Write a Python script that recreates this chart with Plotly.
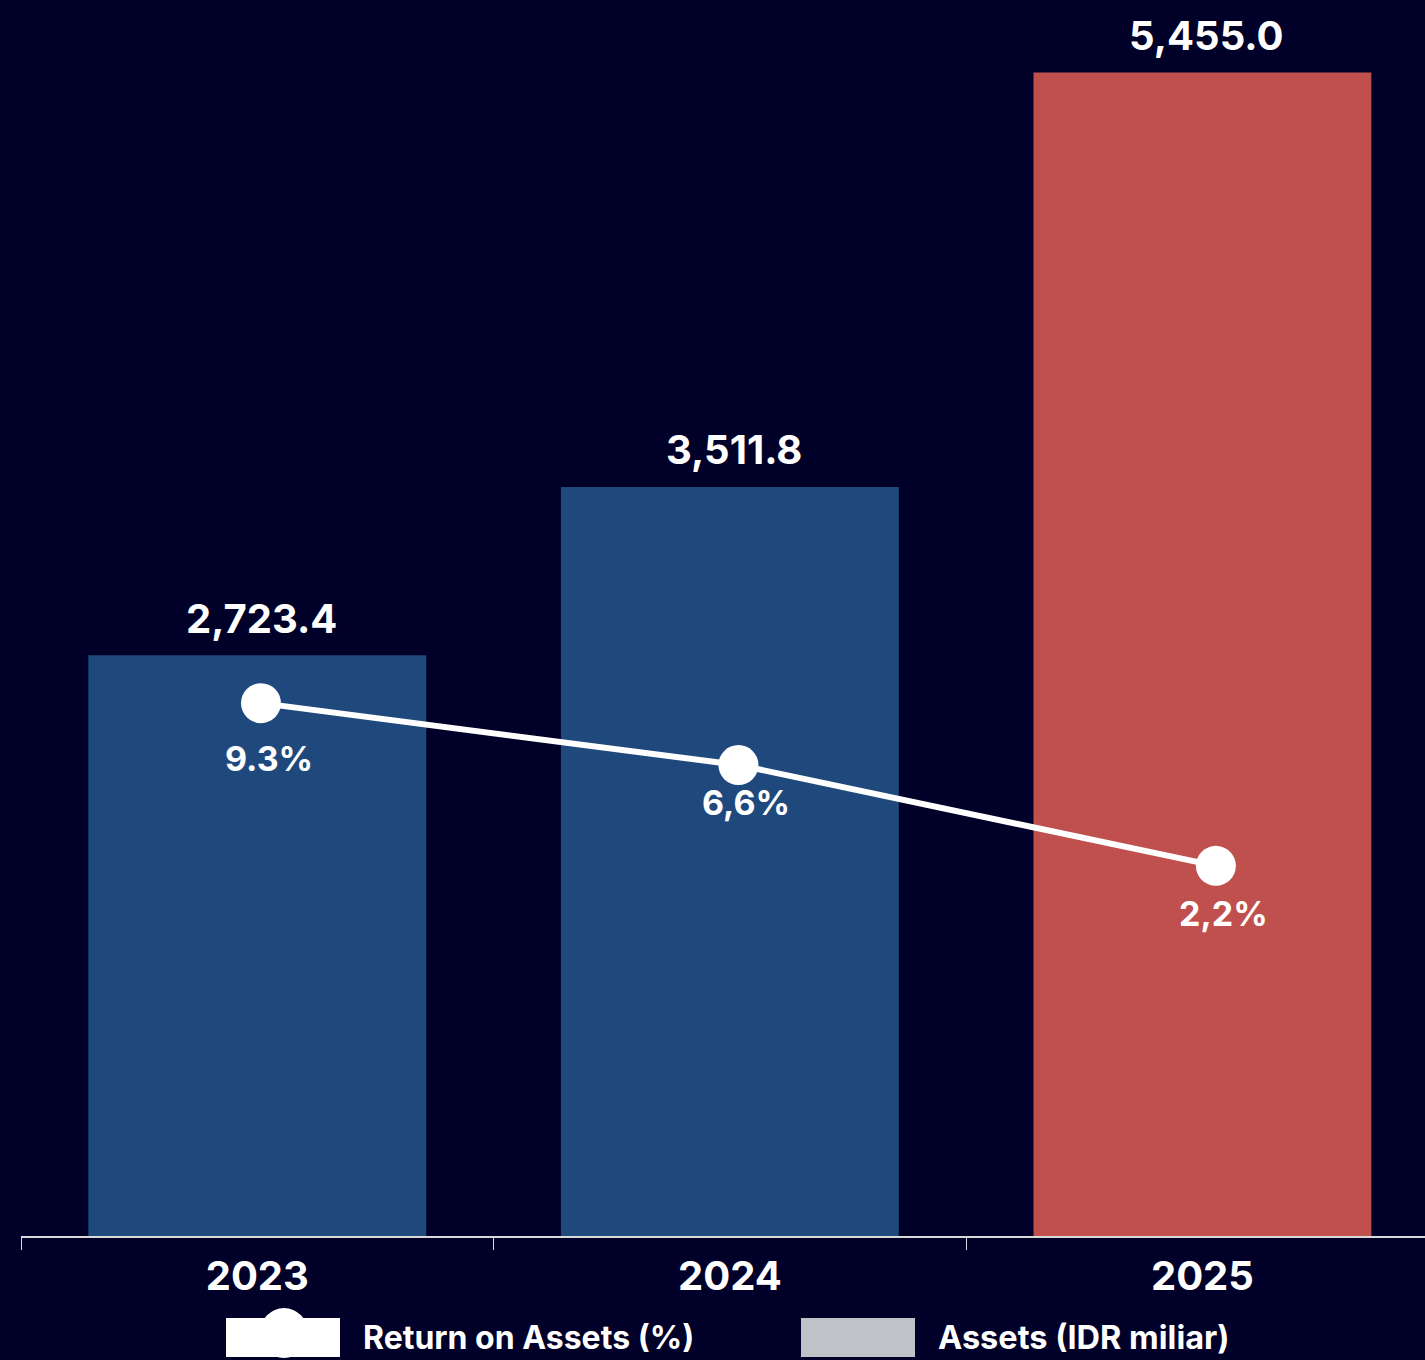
import plotly.graph_objects as go

years = ["2023", "2024", "2025"]
assets = [2723.4, 3511.8, 5455.0]
asset_labels = ["2,723.4", "3,511.8", "5,455.0"]
roa = [9.3, 6.6, 2.2]
roa_labels = ["9.3%", "6,6%", "2,2%"]
bar_colors = ["#1F497D", "#1F497D", "#C0504D"]

# style-only label offsets (pixels below each marker)
roa_label_shift = [-55, -37, -48]

BG = "#000028"
FONT = "Inter"
W, H = 1425, 1360
L, R, T, B = 21, 0, 0, 124
pw, ph = W - L - R, H - T - B

def px(x):
    return (x - L) / pw

def py(y):
    return (H - B - y) / ph

fig = go.Figure()
fig.add_trace(go.Bar(
    x=years, y=assets, marker=dict(color=bar_colors, line=dict(width=0)),
    name="Assets (IDR miliar)", showlegend=False, hoverinfo="skip"))
fig.add_trace(go.Scatter(
    x=years, y=roa, xaxis="x2", yaxis="y2", mode="lines+markers",
    line=dict(color="white", width=6),
    marker=dict(color="white", size=40),
    name="Return on Assets (%)", showlegend=False, hoverinfo="skip"))

annotations = []
for i, (v, t) in enumerate(zip(assets, asset_labels)):
    annotations.append(dict(x=i, y=v, xref="x", yref="y", text=t, showarrow=False,
                            xanchor="center", yanchor="middle", yshift=37, xshift=4,
                            font=dict(family=FONT, size=40, color="white", weight="bold")))
for i, (v, t) in enumerate(zip(roa, roa_labels)):
    annotations.append(dict(x=i, y=v, xref="x2", yref="y2", text=t, showarrow=False,
                            xanchor="center", yanchor="middle", yshift=roa_label_shift[i], xshift=8,
                            font=dict(family=FONT, size=34, color="white", weight="bold")))

# custom legend
shapes = [
    dict(type="rect", xref="paper", yref="paper", x0=px(226), x1=px(340), y0=py(1318), y1=py(1357),
         fillcolor="white", line=dict(width=0)),
    dict(type="circle", xref="paper", yref="paper", x0=px(260), x1=px(308), y0=py(1308), y1=py(1358),
         fillcolor="white", line=dict(width=0)),
    dict(type="rect", xref="paper", yref="paper", x0=px(801), x1=px(915), y0=py(1318), y1=py(1357),
         fillcolor="#BFC3C7", line=dict(width=0)),
]
annotations.append(dict(x=px(361), y=py(1337), xref="paper", yref="paper", text="Return on Assets (%)",
                        showarrow=False, xanchor="left", yanchor="middle",
                        font=dict(family=FONT, size=32, color="white", weight="bold")))
annotations.append(dict(x=px(936), y=py(1337), xref="paper", yref="paper", text="Assets (IDR miliar)",
                        showarrow=False, xanchor="left", yanchor="middle",
                        font=dict(family=FONT, size=32.5, color="white", weight="bold")))

fig.update_layout(
    width=W, height=H, autosize=False,
    margin=dict(l=L, r=R, t=T, b=B),
    paper_bgcolor=BG, plot_bgcolor=BG,
    bargap=0.285,
    showlegend=False,
    xaxis=dict(type="category", range=[-0.5, 2.471], showgrid=False, zeroline=False,
               showline=True, linecolor="#D9D9D9", linewidth=2,
               ticks="outside", tickson="boundaries", ticklen=12, tickcolor="#D9D9D9", tickwidth=1,
               ticklabelstandoff=4,
               tickfont=dict(family=FONT, size=40, color="white", weight="bold")),
    xaxis2=dict(type="category", overlaying="x", range=[-0.5026, 2.438], visible=False,
                showgrid=False, zeroline=False),
    yaxis=dict(range=[0, 5795], visible=False, showgrid=False, zeroline=False),
    yaxis2=dict(range=[-13.95, 39.98], overlaying="y", visible=False, showgrid=False, zeroline=False),
    annotations=annotations, shapes=shapes,
)

fig.write_html("out.html", config={"displayModeBar": False},
               post_script="document.body.style.margin='0';document.body.style.background='#000028';"
                           "document.body.style.overflow='hidden';")
